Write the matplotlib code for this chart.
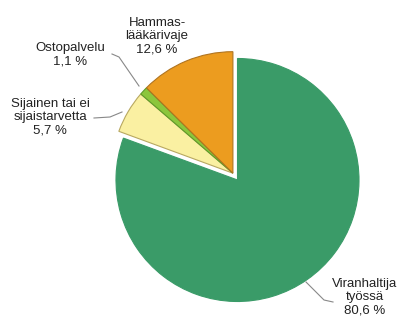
import matplotlib.pyplot as plt
import numpy as np

# Data
labels = ['Viranhaltija\ntyössä\n80,6 %', 'Sijainen tai ei\nsijaistarvetta\n5,7 %',
          'Ostopalvelu\n1,1 %', 'Hammas-\nlääkärivaje\n12,6 %']
shares = [80.6, 5.7, 1.1, 12.6]
colors = ['#3a9b68', '#faf0a2', '#8cc63c', '#ec9c1f']
edges = ['#3a9b68', '#b8a860', '#5e9a2a', '#b07420']

W, H = 403, 328
def Y(y):
    return H - y

fig = plt.figure(figsize=(W / 100, H / 100), dpi=100)
ax = fig.add_axes([0, 0, 1, 1])

cx, cy, r = 237.5, Y(180), 121.5
wedges, _ = ax.pie(shares, colors=colors, startangle=90, counterclock=False,
                   center=(cx, cy), radius=r,
                   wedgeprops=dict(linewidth=0.8))
for w, ec in zip(wedges, edges):
    w.set_edgecolor(ec)

# pull the three small slices out together
dx, dy = -4.6, 6.8
for w in wedges[1:]:
    w.set_center((cx + dx, cy + dy))

ax.set_xlim(0, W)
ax.set_ylim(0, H)
ax.set_aspect('equal')
ax.axis('off')

font = dict(family='Liberation Sans', fontsize=9.5, ha='center', va='center',
            color='#222222', linespacing=1.15)

# labels and leader lines
ax.text(365, Y(297), labels[0], **font)
ax.text(50, Y(117), labels[1], **font)
ax.text(70, Y(55), labels[2], **font)
ax.text(157, Y(36), labels[3], **font)

line = dict(color='#888888', lw=0.8)
ax.plot([112, 119, 139], [Y(54), Y(57), Y(86)], **line)
ax.plot([94, 110, 122], [Y(118), Y(117), Y(112)], **line)
ax.plot([306, 324, 333], [Y(282), Y(300), Y(302)], **line)

fig.savefig('out.png', dpi=100, facecolor='white')
